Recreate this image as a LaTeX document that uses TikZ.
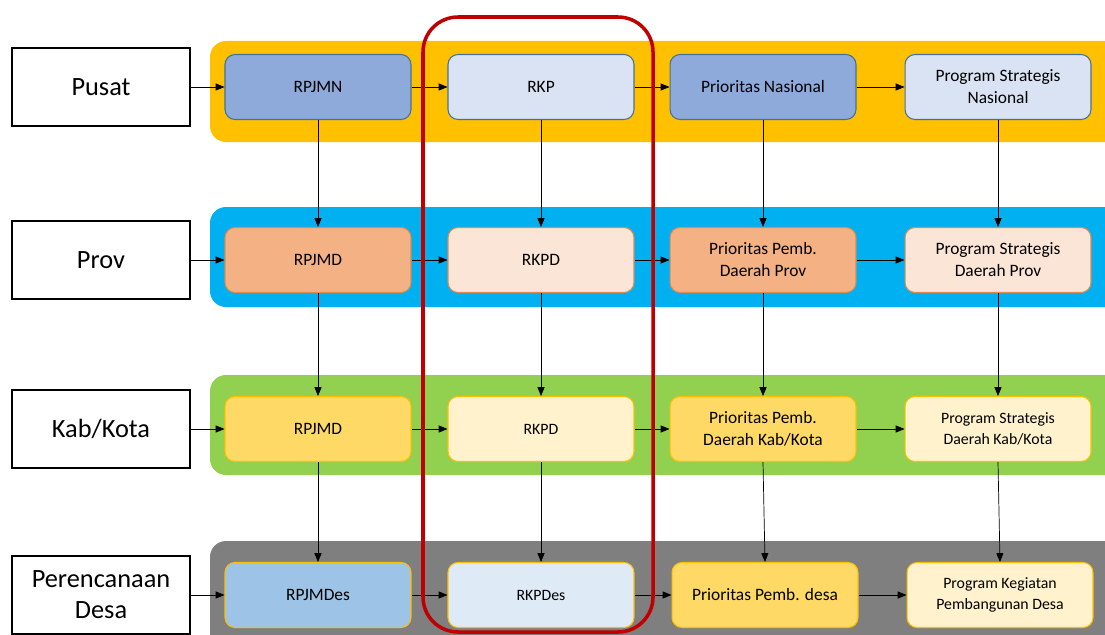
\documentclass[tikz,border=0pt]{standalone}
\usepackage{fontspec}
\setmainfont{Carlito}
\usetikzlibrary{positioning, arrows.meta}

\definecolor{bandpusat}{HTML}{FFC000}
\definecolor{bandprov}{HTML}{00B0F0}
\definecolor{bandkab}{HTML}{92D050}
\definecolor{banddesa}{HTML}{7F7F7F}
\definecolor{bluedark}{HTML}{8EAADB}
\definecolor{bluelight}{HTML}{DAE3F3}
\definecolor{bluebdr}{HTML}{41719C}
\definecolor{orgdark}{HTML}{F4B183}
\definecolor{orglight}{HTML}{FBE5D6}
\definecolor{orgbdr}{HTML}{E08A4E}
\definecolor{yeldark}{HTML}{FFD966}
\definecolor{yellight}{HTML}{FFF2CC}
\definecolor{yelbdr}{HTML}{FFC000}
\definecolor{skydark}{HTML}{9DC3E6}
\definecolor{skylight}{HTML}{DEEBF7}
\definecolor{focusred}{HTML}{C00000}

\tikzset{
  level/.style={draw=black, line width=0.8pt, fill=white, minimum width=3.56cm, minimum height=1.56cm, align=center, font=\fontsize{15}{17.6}\selectfont},
  band/.style={rounded corners=0.32cm},
  plan/.style={rounded corners=0.2cm, line width=0.6pt, minimum width=3.72cm, minimum height=1.3cm, align=center, font=\fontsize{9.9}{12.5}\selectfont},
  small/.style={font=\fontsize{9}{11.8}\selectfont},
  flow/.style={-{Triangle[length=5pt,width=4pt]}, line width=0.4pt, black}
}

\begin{document}
\begin{tikzpicture}[x=0.02cm, y=-0.02cm]
  \useasboundingbox (0,0) rectangle (1105,635);

  % Bands
  \fill[bandpusat, band] (210,41) rectangle (1130,142);
  \fill[bandprov, band] (210,207) rectangle (1130,307);
  \fill[bandkab, band] (210,375) rectangle (1130,475);
  \fill[banddesa, band] (210,541) rectangle (1130,660);

  % Levels
  \node[level] (pusat) at (101,87) {Pusat};
  \node[level] (prov) at (101,260) {Prov};
  \node[level] (kab) at (101,429) {Kab/Kota};
  \node[level] (desa) at (101,595) {Perencanaan\\Desa};

  % Pusat row
  \node[plan, fill=bluedark, draw=bluebdr] (rpjmn) at (318,87) {RPJMN};
  \node[plan, fill=bluelight, draw=bluebdr] (rkp) at (541,87) {RKP};
  \node[plan, fill=bluedark, draw=bluebdr] (pn) at (763,87) {Prioritas Nasional};
  \node[plan, fill=bluelight, draw=bluebdr] (psn) at (998,87) {Program Strategis\\Nasional};

  % Prov row
  \node[plan, fill=orgdark, draw=orgbdr] (rpjmdprov) at (318,260) {RPJMD};
  \node[plan, fill=orglight, draw=orgbdr] (rkpdprov) at (541,260) {RKPD};
  \node[plan, fill=orgdark, draw=orgbdr] (ppprov) at (763,260) {Prioritas Pemb.\\Daerah Prov};
  \node[plan, fill=orglight, draw=orgbdr] (psprov) at (998,260) {Program Strategis\\Daerah Prov};

  % Kab/Kota row
  \node[plan, fill=yeldark, draw=yelbdr] (rpjmdkab) at (318,429) {RPJMD};
  \node[plan, small, fill=yellight, draw=yelbdr] (rkpdkab) at (541,429) {RKPD};
  \node[plan, fill=yeldark, draw=yelbdr] (ppkab) at (763,429) {Prioritas Pemb.\\Daerah Kab/Kota};
  \node[plan, small, fill=yellight, draw=yelbdr] (pskab) at (998,429) {Program Strategis\\Daerah Kab/Kota};

  % Desa row
  \node[plan, fill=skydark, draw=yelbdr] (rpjmdes) at (318,595) {RPJMDes};
  \node[plan, small, fill=skylight, draw=yelbdr] (rkpdes) at (541,595) {RKPDes};
  \node[plan, fill=yeldark, draw=yelbdr] (ppdes) at (765,595) {Prioritas Pemb. desa};
  \node[plan, small, fill=yellight, draw=yelbdr] (pkdes) at (1000,595) {Program Kegiatan\\Pembangunan Desa};

  % Horizontal flow
  \draw[flow] (pusat) -- (rpjmn);
  \draw[flow] (rpjmn) -- (rkp);
  \draw[flow] (rkp) -- (pn);
  \draw[flow] (pn) -- (psn);
  \draw[flow] (prov) -- (rpjmdprov);
  \draw[flow] (rpjmdprov) -- (rkpdprov);
  \draw[flow] (rkpdprov) -- (ppprov);
  \draw[flow] (ppprov) -- (psprov);
  \draw[flow] (kab) -- (rpjmdkab);
  \draw[flow] (rpjmdkab) -- (rkpdkab);
  \draw[flow] (rkpdkab) -- (ppkab);
  \draw[flow] (ppkab) -- (pskab);
  \draw[flow] (desa) -- (rpjmdes);
  \draw[flow] (rpjmdes) -- (rkpdes);
  \draw[flow] (rkpdes) -- (ppdes);
  \draw[flow] (ppdes) -- (pkdes);

  % Vertical flow
  \draw[flow] (rpjmn) -- (rpjmdprov);
  \draw[flow] (rkp) -- (rkpdprov);
  \draw[flow] (pn) -- (ppprov);
  \draw[flow] (psn) -- (psprov);
  \draw[flow] (rpjmdprov) -- (rpjmdkab);
  \draw[flow] (rkpdprov) -- (rkpdkab);
  \draw[flow] (ppprov) -- (ppkab);
  \draw[flow] (psprov) -- (pskab);
  \draw[flow] (rpjmdkab) -- (rpjmdes);
  \draw[flow] (rkpdkab) -- (rkpdes);
  \draw[flow] (ppkab.south) -- (ppdes.north);
  \draw[flow] (pskab.south) -- (pkdes.north);

  % Focus frame
  \draw[focusred, line width=2pt, rounded corners=0.7cm] (423,17) rectangle (653,632);
\end{tikzpicture}
\end{document}
